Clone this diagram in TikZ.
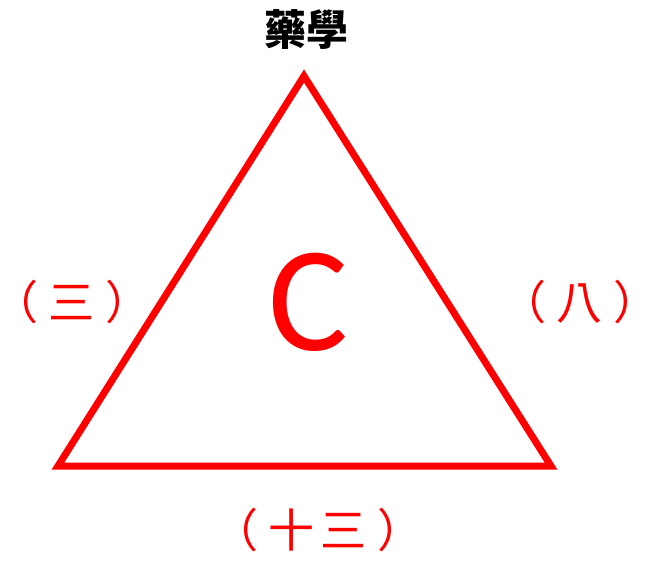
\documentclass[tikz,border=0pt]{standalone}
\usepackage{fontspec}
\setmainfont{Carlito}
\newfontfamily\cjk{Noto Sans CJK TC}
\definecolor{tred}{RGB}{255,0,0}
\newcommand{\pgap}{\kern11pt}
\newcommand{\ptrim}{\kern-12pt}
\begin{document}
\begin{tikzpicture}[x=1pt,y=-1pt,
  edge/.style={draw=tred,line width=7pt,line join=miter},
  lab/.style={text=tred,font=\cjk\fontsize{46}{46}\selectfont,inner sep=0pt,anchor=center},
  title/.style={text=black,font=\cjk\bfseries\fontsize{42}{42}\selectfont,inner sep=0pt}]
\useasboundingbox (0,0) rectangle (659,561);
\coordinate (top) at (304,76);
\coordinate (bl) at (58,466);
\coordinate (br) at (551,466);
\draw[edge] (top) -- (bl) -- (br) -- cycle;
\node[title] (t) at (306,30) {藥學};
\node[lab] (l) at (72,302) {\ptrim（\pgap 三\pgap ）\ptrim};
\node[lab] (r) at (580,302) {\ptrim（\pgap 八\pgap ）\ptrim};
\node[lab] (b) at (318,530) {\ptrim（\pgap 十\kern6pt 三\pgap ）\ptrim};
\node[text=tred,font=\fontsize{150}{150}\selectfont,inner sep=0pt] (c) at (308,302) {C};
\end{tikzpicture}
\end{document}
